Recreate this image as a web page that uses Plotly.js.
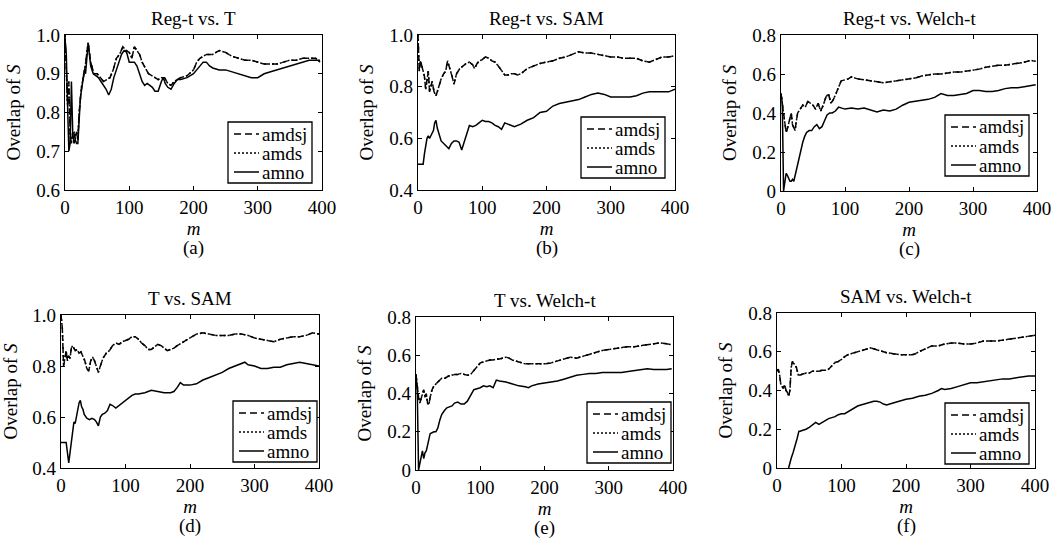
<!DOCTYPE html>
<html>
<head>
<meta charset="utf-8">
<script src="https://cdn.plot.ly/plotly-3.0.1.min.js"></script>
<style>html,body{margin:0;padding:0;background:#fff;}#chart{width:1060px;height:541px;}</style>
</head>
<body>
<div id="chart"></div>
<script>
// ---------------- DATA ----------------
const titles = ["Reg-t vs. T", "Reg-t vs. SAM", "Reg-t vs. Welch-t", "T vs. SAM", "T vs. Welch-t", "SAM vs. Welch-t"];
const captions = ["(a)", "(b)", "(c)", "(d)", "(e)", "(f)"];
const seriesNames = ["amdsj", "amds", "amno"];
const xTickVals = [0, 100, 200, 300, 400];
const xTickText = ["0", "100", "200", "300", "400"];
const yTickValsA = [0.6, 0.7, 0.8, 0.9, 1.0];
const yTickTextA = ["0.6", "0.7", "0.8", "0.9", "1.0"];
const yTickValsB = [0.4, 0.6, 0.8, 1.0];
const yTickTextB = ["0.4", "0.6", "0.8", "1.0"];
const yTickValsC = [0, 0.2, 0.4, 0.6, 0.8];
const yTickTextC = ["0", "0.2", "0.4", "0.6", "0.8"];

// (a) Reg-t vs. T
const a_m_dash = [0,2,4,6,8,10,12,14,16,18,20,22,26,30,34,36,40,45,50,55,60,65,70,75,80,85,90,95,100,104,108,112,116,120,125,130,135,140,145,150,155,160,165,170,180,190,200,205,210,215,220,230,240,250,260,270,280,290,300,310,320,330,340,350,360,370,380,390,397];
const a_amdsj = [1.0,0.93,0.82,0.88,0.74,0.72,0.75,0.75,0.73,0.75,0.73,0.80,0.87,0.90,0.96,0.98,0.93,0.90,0.90,0.89,0.88,0.885,0.89,0.91,0.94,0.95,0.97,0.96,0.955,0.94,0.97,0.96,0.95,0.93,0.915,0.90,0.895,0.89,0.885,0.89,0.89,0.875,0.87,0.88,0.89,0.895,0.91,0.93,0.94,0.945,0.95,0.95,0.96,0.955,0.945,0.94,0.935,0.935,0.93,0.925,0.925,0.925,0.93,0.935,0.935,0.94,0.94,0.94,0.93];
const a_amds  = [1.0,0.93,0.82,0.88,0.74,0.72,0.75,0.75,0.73,0.75,0.73,0.80,0.87,0.90,0.96,0.98,0.93,0.90,0.90,0.89,0.88,0.885,0.89,0.91,0.94,0.95,0.97,0.96,0.955,0.94,0.97,0.96,0.95,0.93,0.915,0.90,0.895,0.89,0.885,0.89,0.89,0.875,0.87,0.88,0.89,0.895,0.91,0.93,0.94,0.945,0.95,0.95,0.96,0.955,0.945,0.94,0.935,0.935,0.93,0.925,0.925,0.925,0.93,0.935,0.935,0.94,0.94,0.94,0.93];
const a_m_solid = [0,2,4,6,8,10,12,14,16,18,20,22,24,26,28,30,32,34,36,38,40,44,48,52,56,60,64,68,72,76,80,84,88,92,96,100,104,108,112,116,120,124,128,132,136,140,145,150,153,156,160,165,170,175,180,190,200,205,210,215,220,225,230,240,250,260,270,280,290,300,310,320,330,340,350,360,370,380,390,397];
const a_amno  = [0.99,0.95,0.82,0.70,0.72,0.88,0.75,0.72,0.73,0.72,0.72,0.80,0.84,0.86,0.88,0.91,0.90,0.95,0.98,0.95,0.92,0.90,0.895,0.89,0.88,0.87,0.86,0.845,0.86,0.89,0.91,0.93,0.95,0.96,0.955,0.93,0.93,0.93,0.92,0.90,0.88,0.87,0.875,0.87,0.865,0.855,0.855,0.88,0.89,0.875,0.865,0.86,0.875,0.885,0.885,0.89,0.90,0.91,0.92,0.93,0.93,0.92,0.915,0.91,0.91,0.905,0.90,0.895,0.89,0.89,0.90,0.905,0.91,0.915,0.92,0.925,0.93,0.935,0.935,0.935];

// (b) Reg-t vs. SAM
const b_m_dash = [0,2,4,6,8,10,12,14,16,18,20,22,25,28,30,33,36,40,43,46,50,53,56,60,65,70,75,80,85,88,92,96,100,105,110,115,120,125,130,135,140,145,150,155,160,165,170,180,190,200,210,220,230,240,250,260,270,280,290,300,310,320,330,340,350,360,370,380,390,400];
const b_amdsj = [1.0,0.86,0.90,0.88,0.85,0.84,0.79,0.82,0.86,0.78,0.80,0.82,0.78,0.765,0.78,0.81,0.83,0.85,0.86,0.90,0.87,0.84,0.81,0.85,0.87,0.88,0.89,0.895,0.885,0.87,0.89,0.90,0.905,0.915,0.91,0.90,0.895,0.88,0.86,0.845,0.845,0.85,0.85,0.845,0.85,0.86,0.87,0.88,0.89,0.895,0.90,0.91,0.915,0.925,0.935,0.93,0.93,0.925,0.92,0.915,0.915,0.91,0.91,0.91,0.90,0.895,0.905,0.915,0.915,0.92];
const b_amds  = [1.0,0.86,0.90,0.88,0.85,0.84,0.79,0.82,0.86,0.78,0.80,0.82,0.78,0.765,0.78,0.81,0.83,0.85,0.86,0.90,0.87,0.84,0.81,0.85,0.87,0.88,0.89,0.895,0.885,0.87,0.89,0.90,0.905,0.915,0.91,0.90,0.895,0.88,0.86,0.845,0.845,0.85,0.85,0.845,0.85,0.86,0.87,0.88,0.89,0.895,0.90,0.91,0.915,0.925,0.935,0.93,0.93,0.925,0.92,0.915,0.915,0.91,0.91,0.91,0.90,0.895,0.905,0.915,0.915,0.92];
const b_m_solid = [0,4,8,10,12,14,16,18,20,22,24,26,28,30,33,36,40,44,48,52,56,60,64,68,72,76,80,85,90,95,100,105,110,115,120,125,130,135,140,150,160,170,180,190,200,210,220,230,240,250,260,270,280,290,300,310,320,330,340,350,360,370,380,390,400];
const b_amno  = [0.50,0.50,0.50,0.54,0.58,0.60,0.61,0.60,0.61,0.62,0.63,0.66,0.67,0.64,0.61,0.59,0.58,0.57,0.56,0.58,0.59,0.59,0.585,0.555,0.59,0.62,0.65,0.645,0.65,0.66,0.67,0.665,0.665,0.66,0.65,0.645,0.635,0.66,0.655,0.645,0.655,0.67,0.68,0.70,0.705,0.725,0.735,0.74,0.745,0.75,0.76,0.77,0.775,0.77,0.76,0.76,0.76,0.76,0.765,0.775,0.78,0.78,0.78,0.78,0.79];

// (c) Reg-t vs. Welch-t
const c_m_dash = [0,2,4,6,8,10,12,14,16,18,20,22,24,26,30,34,38,42,46,50,54,58,62,66,70,74,78,82,86,90,94,100,105,110,115,120,130,140,150,160,170,180,190,200,210,220,230,240,250,260,270,280,290,300,310,320,330,340,350,360,370,380,390,398];
const c_amdsj = [0.50,0.45,0.38,0.33,0.30,0.32,0.35,0.38,0.40,0.34,0.32,0.31,0.36,0.40,0.42,0.44,0.43,0.46,0.45,0.44,0.42,0.45,0.41,0.44,0.48,0.50,0.45,0.47,0.50,0.53,0.565,0.57,0.575,0.585,0.58,0.575,0.57,0.565,0.56,0.555,0.56,0.565,0.57,0.575,0.58,0.59,0.595,0.60,0.60,0.605,0.61,0.61,0.615,0.62,0.625,0.635,0.64,0.645,0.645,0.65,0.655,0.66,0.67,0.665];
const c_amds  = [0.50,0.45,0.38,0.33,0.30,0.32,0.35,0.38,0.40,0.34,0.32,0.31,0.36,0.40,0.42,0.44,0.43,0.46,0.45,0.44,0.42,0.45,0.41,0.44,0.48,0.50,0.45,0.47,0.50,0.53,0.565,0.57,0.575,0.585,0.58,0.575,0.57,0.565,0.56,0.555,0.56,0.565,0.57,0.575,0.58,0.59,0.595,0.60,0.60,0.605,0.61,0.61,0.615,0.62,0.625,0.635,0.64,0.645,0.645,0.65,0.655,0.66,0.67,0.665];
const c_m_solid = [0,2,4,6,8,10,12,14,16,18,20,22,25,28,31,34,37,40,44,48,52,56,60,64,68,72,76,80,85,90,95,100,110,120,130,140,150,160,170,180,190,200,210,220,230,240,250,260,270,280,290,300,310,320,330,340,350,360,370,380,390,398];
const c_amno  = [0.50,0.45,0.0,0.05,0.09,0.08,0.06,0.05,0.05,0.06,0.05,0.08,0.12,0.17,0.21,0.25,0.28,0.30,0.31,0.31,0.33,0.34,0.32,0.33,0.36,0.39,0.40,0.40,0.41,0.43,0.425,0.42,0.425,0.42,0.425,0.415,0.405,0.415,0.41,0.42,0.44,0.455,0.46,0.465,0.47,0.48,0.50,0.49,0.49,0.495,0.50,0.515,0.515,0.51,0.51,0.515,0.525,0.53,0.53,0.535,0.54,0.545];

// (d) T vs. SAM
const d_m_dash = [0,2,4,6,8,10,12,14,16,18,20,22,25,28,31,34,37,40,43,46,49,52,55,58,61,65,70,75,80,85,90,95,100,105,110,115,120,125,130,135,140,145,150,155,160,165,170,175,180,190,200,210,220,230,240,250,260,270,280,290,300,310,320,330,340,350,360,370,380,390,400];
const d_amdsj = [1.0,0.95,0.80,0.84,0.86,0.82,0.84,0.83,0.87,0.88,0.87,0.86,0.865,0.85,0.855,0.84,0.82,0.79,0.78,0.82,0.835,0.82,0.80,0.775,0.80,0.83,0.85,0.86,0.88,0.89,0.885,0.895,0.90,0.905,0.915,0.915,0.905,0.89,0.88,0.865,0.865,0.875,0.885,0.88,0.87,0.86,0.865,0.87,0.88,0.895,0.91,0.925,0.93,0.925,0.92,0.92,0.92,0.925,0.925,0.92,0.91,0.905,0.90,0.895,0.905,0.91,0.915,0.915,0.92,0.93,0.925];
const d_amds  = [1.0,0.95,0.80,0.84,0.86,0.82,0.84,0.83,0.87,0.88,0.87,0.86,0.865,0.85,0.855,0.84,0.82,0.79,0.78,0.82,0.835,0.82,0.80,0.775,0.80,0.83,0.85,0.86,0.88,0.89,0.885,0.895,0.90,0.905,0.915,0.915,0.905,0.89,0.88,0.865,0.865,0.875,0.885,0.88,0.87,0.86,0.865,0.87,0.88,0.895,0.91,0.925,0.93,0.925,0.92,0.92,0.92,0.925,0.925,0.92,0.91,0.905,0.90,0.895,0.905,0.91,0.915,0.915,0.92,0.93,0.925];
const d_m_solid = [0,4,8,10,12,14,16,18,20,22,24,26,28,30,32,34,36,40,44,48,52,55,58,61,64,68,72,76,80,85,90,95,100,105,110,115,120,130,140,150,160,170,175,180,185,190,200,210,220,230,240,250,260,270,280,285,290,300,310,320,330,340,350,360,370,380,390,400];
const d_amno  = [0.50,0.50,0.50,0.46,0.42,0.46,0.50,0.52,0.58,0.575,0.60,0.62,0.655,0.665,0.64,0.63,0.61,0.595,0.59,0.595,0.59,0.58,0.565,0.60,0.61,0.615,0.625,0.65,0.645,0.635,0.645,0.655,0.665,0.675,0.685,0.69,0.69,0.695,0.705,0.70,0.695,0.695,0.70,0.715,0.735,0.725,0.725,0.73,0.745,0.755,0.765,0.775,0.79,0.80,0.81,0.815,0.805,0.80,0.79,0.79,0.795,0.795,0.805,0.81,0.815,0.81,0.805,0.80];

// (e) T vs. Welch-t
const e_m_dash = [0,2,4,6,8,10,12,14,16,18,20,22,25,28,31,35,40,45,50,55,60,65,70,75,80,85,90,95,100,105,110,115,120,125,130,135,140,145,150,160,170,180,190,200,210,220,230,240,250,260,270,280,290,300,310,320,330,340,350,360,370,380,390,398];
const e_amdsj = [0.50,0.42,0.38,0.35,0.37,0.40,0.42,0.38,0.40,0.35,0.34,0.38,0.42,0.44,0.45,0.46,0.48,0.48,0.49,0.495,0.50,0.50,0.505,0.50,0.495,0.50,0.52,0.54,0.56,0.565,0.57,0.575,0.575,0.58,0.58,0.585,0.59,0.585,0.575,0.565,0.555,0.555,0.555,0.555,0.56,0.57,0.58,0.59,0.585,0.595,0.605,0.615,0.625,0.63,0.635,0.64,0.645,0.645,0.65,0.655,0.66,0.665,0.66,0.655];
const e_amds  = [0.50,0.42,0.38,0.35,0.37,0.40,0.42,0.38,0.40,0.35,0.34,0.38,0.42,0.44,0.45,0.46,0.48,0.48,0.49,0.495,0.50,0.50,0.505,0.50,0.495,0.50,0.52,0.54,0.56,0.565,0.57,0.575,0.575,0.58,0.58,0.585,0.59,0.585,0.575,0.565,0.555,0.555,0.555,0.555,0.56,0.57,0.58,0.59,0.585,0.595,0.605,0.615,0.625,0.63,0.635,0.64,0.645,0.645,0.65,0.655,0.66,0.665,0.66,0.655];
const e_m_solid = [0,2,4,6,8,10,12,14,16,18,20,22,25,28,31,34,37,40,44,48,52,56,60,65,70,75,80,85,90,95,100,105,110,115,120,125,130,140,150,160,170,175,180,190,200,210,220,230,240,250,260,270,280,290,300,310,320,330,340,350,360,370,380,390,398];
const e_amno  = [0.50,0.40,0.0,0.03,0.07,0.10,0.06,0.09,0.10,0.13,0.17,0.19,0.195,0.20,0.20,0.22,0.26,0.29,0.31,0.325,0.33,0.335,0.35,0.355,0.345,0.345,0.36,0.39,0.42,0.425,0.43,0.44,0.435,0.44,0.43,0.47,0.465,0.46,0.45,0.44,0.435,0.43,0.44,0.45,0.455,0.46,0.465,0.475,0.485,0.495,0.50,0.505,0.505,0.51,0.51,0.51,0.51,0.515,0.52,0.525,0.53,0.525,0.525,0.525,0.53];

// (f) SAM vs. Welch-t
const f_m_dash = [0,2,4,6,8,10,12,14,16,18,20,22,24,26,28,30,33,36,40,45,50,55,60,65,70,75,80,85,90,95,100,105,110,115,120,130,140,145,150,160,170,180,190,200,210,215,220,230,240,250,260,270,280,290,300,310,320,330,340,350,360,370,380,390,400];
const f_amdsj = [0.50,0.51,0.48,0.43,0.42,0.41,0.43,0.40,0.39,0.37,0.40,0.52,0.55,0.54,0.53,0.52,0.48,0.48,0.485,0.49,0.49,0.50,0.50,0.50,0.505,0.505,0.51,0.53,0.545,0.55,0.56,0.575,0.585,0.59,0.595,0.605,0.615,0.62,0.615,0.605,0.595,0.59,0.585,0.585,0.585,0.59,0.60,0.615,0.63,0.63,0.64,0.645,0.645,0.64,0.64,0.645,0.655,0.655,0.655,0.66,0.665,0.67,0.675,0.68,0.685];
const f_amds  = [0.50,0.51,0.48,0.43,0.42,0.41,0.43,0.40,0.39,0.37,0.40,0.52,0.55,0.54,0.53,0.52,0.48,0.48,0.485,0.49,0.49,0.50,0.50,0.50,0.505,0.505,0.51,0.53,0.545,0.55,0.56,0.575,0.585,0.59,0.595,0.605,0.615,0.62,0.615,0.605,0.595,0.59,0.585,0.585,0.585,0.59,0.60,0.615,0.63,0.63,0.64,0.645,0.645,0.64,0.64,0.645,0.655,0.655,0.655,0.66,0.665,0.67,0.675,0.68,0.685];
const f_m_solid = [18,20,22,25,28,31,34,36,40,45,50,55,60,65,70,75,80,85,90,95,100,105,110,115,120,125,130,140,150,155,160,165,170,180,190,200,210,220,230,240,250,255,260,270,280,290,300,310,320,330,340,350,360,370,380,390,400];
const f_amno  = [0.0,0.03,0.05,0.08,0.11,0.15,0.19,0.19,0.195,0.20,0.21,0.225,0.235,0.225,0.235,0.245,0.255,0.26,0.265,0.275,0.28,0.28,0.29,0.30,0.31,0.32,0.325,0.335,0.345,0.345,0.34,0.33,0.325,0.335,0.345,0.355,0.36,0.37,0.375,0.385,0.40,0.41,0.405,0.41,0.42,0.43,0.44,0.44,0.445,0.45,0.455,0.46,0.46,0.465,0.47,0.475,0.475];

// ---------------- LAYOUT (pixel boxes of the six plot areas, legend insets) ----------------
const W = 1060, H = 541;
const boxes = [
  {l: 65,  r: 322,  t: 35,  b: 190, lr: 10, lb: 7},
  {l: 418, r: 675,  t: 35,  b: 190, lr: 10, lb: 12},
  {l: 781, r: 1037, t: 35,  b: 191, lr: 8,  lb: 15},
  {l: 61,  r: 319,  t: 315, b: 468, lr: 2,  lb: 6},
  {l: 416, r: 673,  t: 317, b: 470, lr: 2,  lb: 7},
  {l: 777, r: 1035, t: 313, b: 468, lr: 6,  lb: 4}
];
const panelData = [
  {md: a_m_dash, dj: a_amdsj, ds: a_amds, ms: a_m_solid, no: a_amno, yr: [0.6, 1.0], tv: yTickValsA, tt: yTickTextA},
  {md: b_m_dash, dj: b_amdsj, ds: b_amds, ms: b_m_solid, no: b_amno, yr: [0.4, 1.0], tv: yTickValsB, tt: yTickTextB},
  {md: c_m_dash, dj: c_amdsj, ds: c_amds, ms: c_m_solid, no: c_amno, yr: [0, 0.8], tv: yTickValsC, tt: yTickTextC},
  {md: d_m_dash, dj: d_amdsj, ds: d_amds, ms: d_m_solid, no: d_amno, yr: [0.4, 1.0], tv: yTickValsB, tt: yTickTextB},
  {md: e_m_dash, dj: e_amdsj, ds: e_amds, ms: e_m_solid, no: e_amno, yr: [0, 0.8], tv: yTickValsC, tt: yTickTextC},
  {md: f_m_dash, dj: f_amdsj, ds: f_amds, ms: f_m_solid, no: f_amno, yr: [0, 0.8], tv: yTickValsC, tt: yTickTextC}
];

const FONT = "'Liberation Serif', 'Times New Roman', serif";
const FS = 19;
const DASHES = ["6px,4px", "2px,2px", "solid"];
const traces = [];
const layout = {
  width: W, height: H,
  margin: {l: 0, r: 0, t: 0, b: 0},
  paper_bgcolor: "#fff", plot_bgcolor: "#fff",
  font: {family: FONT, color: "#000", size: FS},
  annotations: [], shapes: [],
  showlegend: false
};
const px = v => v / W, py = v => 1 - v / H;

panelData.forEach((p, i) => {
  const n = i + 1;
  const bx = boxes[i];
  const xa = "x" + (n === 1 ? "" : n), ya = "y" + (n === 1 ? "" : n);
  const lineW = 1.5;
  const xs = [p.md, p.md, p.ms], ys = [p.dj, p.ds, p.no];
  for (let k = 0; k < 3; k++) {
    traces.push({x: xs[k], y: ys[k], xaxis: xa, yaxis: ya, type: "scatter", mode: "lines", name: seriesNames[k],
      line: {color: "#000", width: lineW, dash: DASHES[k]}, hoverinfo: "skip"});
  }

  const axCommon = {showline: true, linecolor: "#000", linewidth: 1.3, mirror: "ticks", ticks: "inside",
                    ticklen: 4, tickcolor: "#000", showgrid: false, zeroline: false, fixedrange: true,
                    tickfont: {family: FONT, size: FS, color: "#000"}};
  layout["xaxis" + (n === 1 ? "" : n)] = Object.assign({}, axCommon, {
    domain: [px(bx.l), px(bx.r)], anchor: ya, range: [0, 400],
    tickvals: xTickVals, ticktext: xTickText,
    title: {text: "<i>m</i>", font: {family: FONT, size: FS}, standoff: 2}
  });
  layout["yaxis" + (n === 1 ? "" : n)] = Object.assign({}, axCommon, {
    domain: [py(bx.b), py(bx.t)], anchor: xa, range: p.yr,
    tickvals: p.tv, ticktext: p.tt,
    title: {text: "Overlap of <i>S</i>", font: {family: FONT, size: FS}, standoff: 10}
  });

  // legend box (drawn in paper coordinates)
  const lgR = bx.r - bx.lr, lgB = bx.b - bx.lb, lgW = 84, lgH = 61;
  const lgL = lgR - lgW, lgT = lgB - lgH;
  layout.shapes.push({type: "rect", xref: "paper", yref: "paper", x0: px(lgL), x1: px(lgR), y0: py(lgB), y1: py(lgT),
    line: {color: "#000", width: 1.3}, fillcolor: "#fff", layer: "above"});
  for (let k = 0; k < 3; k++) {
    const ry = lgT + 12 + k * 19;
    layout.shapes.push({type: "line", xref: "paper", yref: "paper", x0: px(lgL + 6), x1: px(lgL + 31), y0: py(ry), y1: py(ry),
      line: {color: "#000", width: 1.5, dash: k === 0 ? "7px,4px" : DASHES[k]}, layer: "above"});
    layout.annotations.push({text: seriesNames[k], x: px(lgL + 32), y: py(ry), xref: "paper", yref: "paper",
      xanchor: "left", yanchor: "middle", showarrow: false, font: {family: FONT, size: FS, color: "#000"}});
  }

  layout.annotations.push({text: titles[i], x: px((bx.l + bx.r) / 2), y: py(bx.t - 4),
    xref: "paper", yref: "paper", xanchor: "center", yanchor: "bottom", showarrow: false,
    font: {family: FONT, size: FS, color: "#000"}});
  layout.annotations.push({text: captions[i], x: px((bx.l + bx.r) / 2), y: py(bx.b + 58),
    xref: "paper", yref: "paper", xanchor: "center", yanchor: "middle", showarrow: false,
    font: {family: FONT, size: FS, color: "#000"}});
});

Plotly.newPlot("chart", traces, layout, {displayModeBar: false, staticPlot: true});
</script>
</body>
</html>
